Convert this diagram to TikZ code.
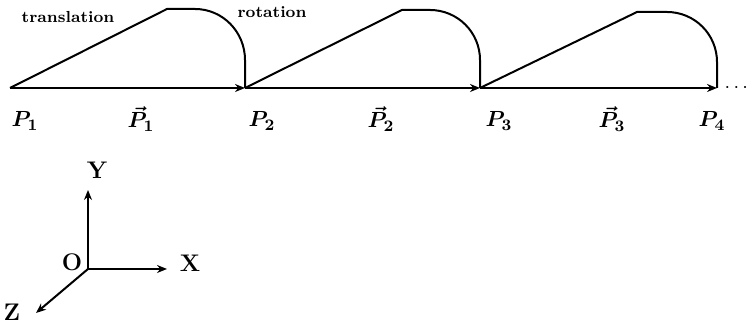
\documentclass[tikz,border=0pt]{standalone}
\usepackage{amsmath}
\usetikzlibrary{arrows.meta}

\begin{document}
\begin{tikzpicture}[x=0.5pt, y=0.5pt, >={Stealth[length=5pt,width=4pt]}]

  % Styles for the path and the labels
  \tikzset{
    motion/.style={line width=1pt, line join=round},
    axis/.style={line width=1pt, ->},
    tag/.style={font=\footnotesize\bfseries},
    ptlabel/.style={font=\fontsize{11pt}{13pt}\selectfont},
    axlabel/.style={font=\large\bfseries}
  }

  \useasboundingbox (0,0) rectangle (748,324);

  % Points on the base line
  \coordinate (P1) at (10,236);
  \coordinate (P2) at (245,236);
  \coordinate (P3) at (480,236);
  \coordinate (P4) at (717,236);

  % Tops of the translation ramps
  \coordinate (T1) at (167,315);
  \coordinate (T2) at (402,314);
  \coordinate (T3) at (637,312);

  % Translation ramps and rotation arcs
  \draw[motion] (P1) -- (T1) -- ++(28,0)
    arc[start angle=90, end angle=0, x radius=50, y radius=51] -- (P2);
  \draw[motion] (P2) -- (T2) -- ++(28,0)
    arc[start angle=90, end angle=0, x radius=50, y radius=50] -- (P3);
  \draw[motion] (P3) -- (T3) -- ++(30,0)
    arc[start angle=90, end angle=0, x radius=50, y radius=50] -- (P4);

  % Displacement vectors along the base line
  \draw[motion, ->] (P1) -- (P2);
  \draw[motion, ->] (P2) -- (P3);
  \draw[motion, ->] (P3) -- (P4);
  \node[font=\bfseries] (more) at (738,236) {$\cdots$};

  % Annotations
  \node[tag] (trans) at (68,307) {translation};
  \node[tag] (rot) at (272,312) {rotation};

  % Labels under the base line
  \node[ptlabel] (l1) at (25,203) {$\boldsymbol{P_1}$};
  \node[ptlabel] (v1) at (141,205) {$\boldsymbol{\vec{P}_1}$};
  \node[ptlabel] (l2) at (262,203) {$\boldsymbol{P_2}$};
  \node[ptlabel] (v2) at (381,205) {$\boldsymbol{\vec{P}_2}$};
  \node[ptlabel] (l3) at (499,203) {$\boldsymbol{P_3}$};
  \node[ptlabel] (v3) at (612,205) {$\boldsymbol{\vec{P}_3}$};
  \node[ptlabel] (l4) at (712,203) {$\boldsymbol{P_4}$};

  % Coordinate frame
  \coordinate (O) at (88,55);
  \coordinate (Xend) at (167,55);
  \coordinate (Yend) at (88,134);
  \coordinate (Zend) at (36,11);
  \draw[axis] (O) -- (Xend);
  \draw[axis] (O) -- (Yend);
  \draw[axis] (O) -- (Zend);
  \node[axlabel] (xl) at (190,61) {X};
  \node[axlabel] (yl) at (97,154) {Y};
  \node[axlabel] (zl) at (12,12) {Z};
  \node[axlabel] (ol) at (72,62) {O};

\end{tikzpicture}
\end{document}
